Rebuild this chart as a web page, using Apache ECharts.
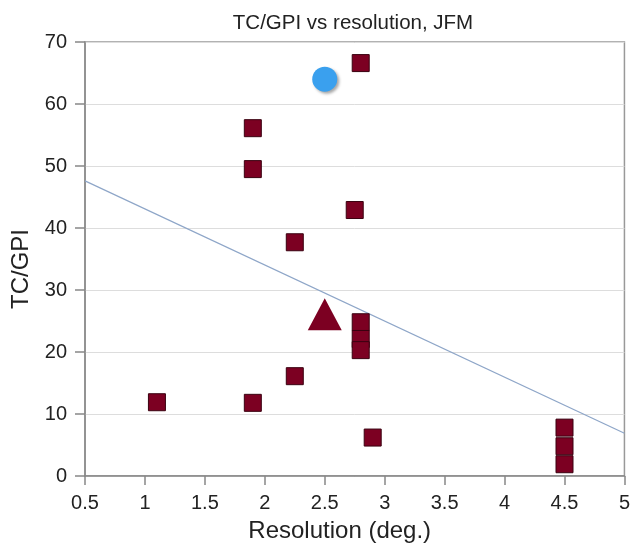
<!DOCTYPE html>
<html>
<head>
<meta charset="utf-8">
<script src="https://cdn.jsdelivr.net/npm/echarts@6/dist/echarts.min.js"></script>
<style>
  html, body { margin: 0; padding: 0; background: #fff; }
  #chart { width: 633px; height: 549px; }
</style>
</head>
<body>
<div id="chart"></div>
<script>
// model points (squares)
const squareRes = [2.8, 1.9, 1.9, 2.75, 2.25, 2.8, 2.8, 2.8, 2.25, 1.1, 1.9, 2.9, 4.5, 4.5, 4.5];
const squareVal = [66.6, 56.1, 49.5, 42.9, 37.7, 24.8, 22.1, 20.3, 16.1, 11.9, 11.8, 6.2, 7.8, 4.8, 1.9];
// observation (circle) and triangle point
const circleRes = [2.5];
const circleVal = [64.0];
const triangleRes = [2.5];
const triangleVal = [26.1];
// fitted trend line end points
const fitRes = [0.5, 5];
const fitVal = [47.6, 6.9];

const xTicks = { min: 0.5, max: 5, interval: 0.5 };
const yTicks = { min: 0, max: 70, interval: 10 };

function zip(xs, ys) {
    return xs.map((x, i) => [x, ys[i]]);
}

const chart = echarts.init(document.getElementById('chart'));
const font = 'Liberation Sans, Arial, sans-serif';

chart.setOption({
    animation: false,
    title: {
        text: 'TC/GPI vs resolution, JFM',
        left: 348,
        top: 8,
        textAlign: 'center',
        textStyle: { fontFamily: font, fontSize: 20.5, fontWeight: 'normal', color: '#222' },
    },
    grid: {
        left: 85, right: 7, top: 42, bottom: 73,
        show: true, borderColor: '#999', borderWidth: 1.5,
    },
    xAxis: {
        type: 'value',
        min: xTicks.min, max: xTicks.max, interval: xTicks.interval,
        name: 'Resolution (deg.)',
        nameLocation: 'middle',
        nameGap: 43,
        nameTextStyle: { fontFamily: font, fontSize: 24, color: '#222', padding: [0, 30, 0, 0] },
        axisLine: { lineStyle: { color: '#888', width: 1.5 } },
        axisTick: { show: true, length: 9, lineStyle: { color: '#888', width: 1.5 } },
        axisLabel: { fontFamily: font, fontSize: 20, color: '#222', margin: 17 },
        splitLine: { show: false },
    },
    yAxis: {
        type: 'value',
        min: yTicks.min, max: yTicks.max, interval: yTicks.interval,
        name: 'TC/GPI',
        nameLocation: 'middle',
        nameGap: 52,
        nameTextStyle: { fontFamily: font, fontSize: 24, color: '#222', padding: [0, 20, 0, 0] },
        axisLine: { show: true, lineStyle: { color: '#888', width: 1.5 } },
        axisTick: { show: true, length: 10, lineStyle: { color: '#888', width: 1.5 } },
        axisLabel: { fontFamily: font, fontSize: 20, color: '#222', margin: 18 },
        splitLine: { show: true, lineStyle: { color: '#ddd', width: 1 } },
    },
    series: [
        {
            type: 'line',
            data: zip(fitRes, fitVal),
            showSymbol: false,
            lineStyle: { color: '#8ea6c8', width: 1.2 },
            z: 1,
        },
        {
            type: 'scatter',
            data: zip(squareRes, squareVal),
            symbol: 'rect',
            symbolSize: 17,
            itemStyle: { color: '#7c0022', borderColor: '#3a0010', borderWidth: 1, opacity: 1 },
            z: 3,
        },
        {
            type: 'scatter',
            data: zip(triangleRes, triangleVal),
            symbol: 'triangle',
            symbolSize: [34, 32],
            itemStyle: { color: '#7c0022', opacity: 1 },
            z: 3,
        },
        {
            type: 'scatter',
            data: zip(circleRes, circleVal),
            symbol: 'circle',
            symbolSize: 25,
            itemStyle: {
                color: '#3aa0ee', opacity: 1,
                shadowColor: 'rgba(0,0,0,0.35)', shadowBlur: 3, shadowOffsetX: 2, shadowOffsetY: 2,
            },
            z: 4,
        },
    ],
});
</script>
</body>
</html>
